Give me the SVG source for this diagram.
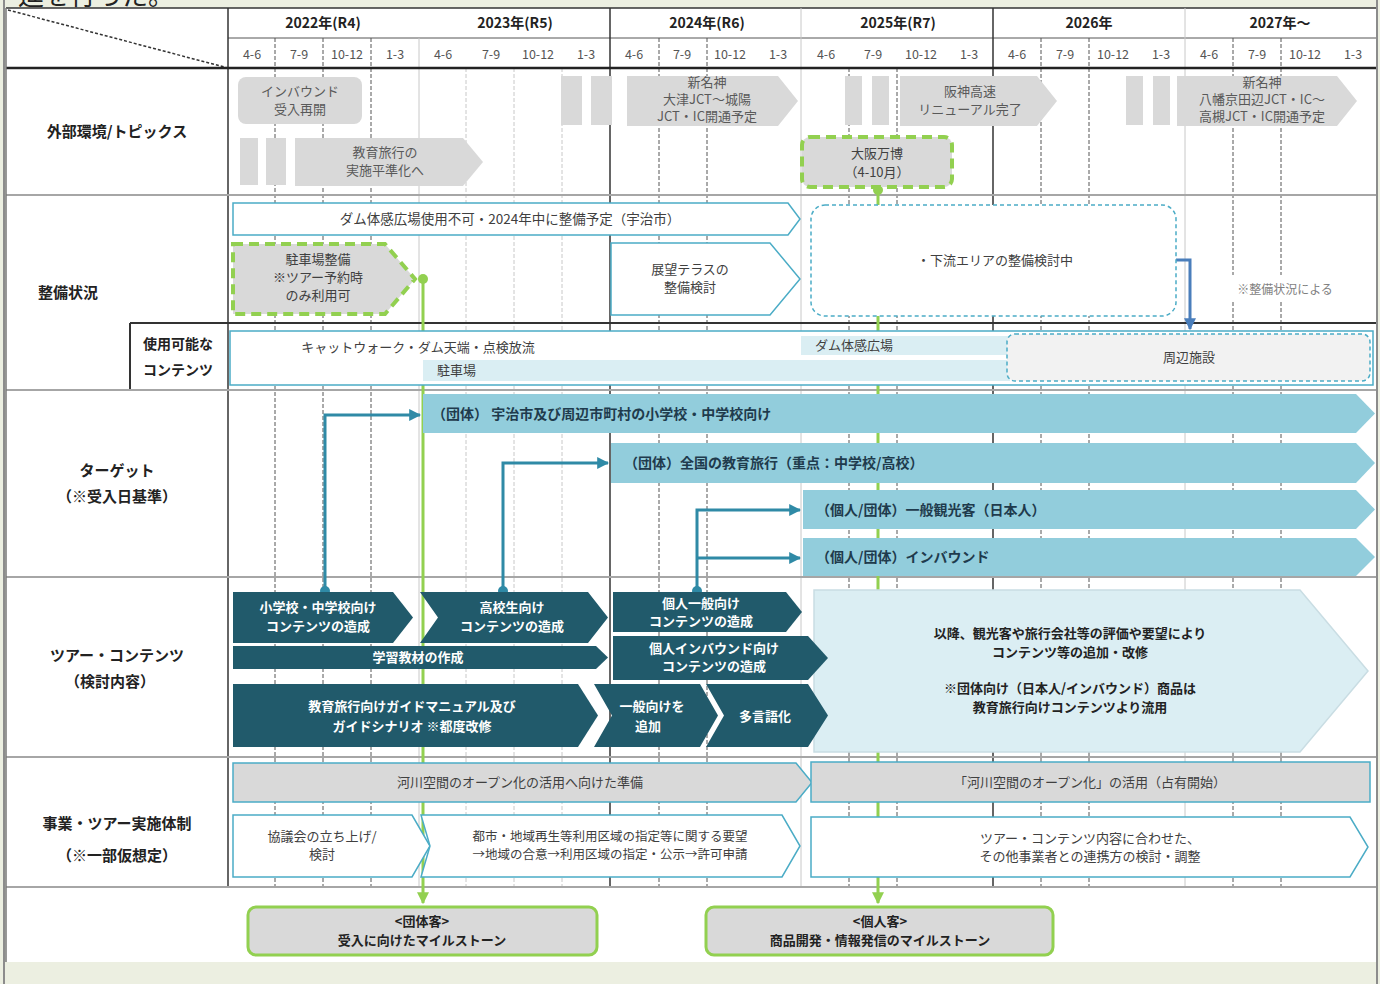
<svg xmlns="http://www.w3.org/2000/svg" width="1380" height="984" viewBox="0 0 1380 984">
<defs>
<style>
text{font-family:"Noto Sans CJK JP","Noto Sans",sans-serif;}
.yr{font-size:14px;font-weight:bold;fill:#222;text-anchor:middle}
.qt{font-size:12.5px;fill:#555;text-anchor:middle}
.lbl{font-size:15px;font-weight:bold;fill:#222;text-anchor:middle}
.g{fill:#d9d9d9}
.gt{font-size:13px;fill:#595959;text-anchor:middle}
.wb{fill:#fff;stroke:#4bacc6;stroke-width:1.5}
.bt{font-size:13px;fill:#404040;text-anchor:middle}
.tg{fill:#92cddc}
.tgt{font-size:14px;font-weight:bold;fill:#1f3b4d}
.dk{fill:#215a6b}
.dkt{font-size:13px;font-weight:bold;fill:#fff;text-anchor:middle}
.grn{fill:#d9d9d9;stroke:#92d050;stroke-width:4;stroke-dasharray:10 6}
.qd{stroke:#555;stroke-width:1;stroke-dasharray:4 2}
.qf{stroke:#c8c8c8;stroke-width:1;stroke-dasharray:4 2}
.yd{stroke:#333;stroke-width:1.5}
.yf{stroke:#c8c8c8;stroke-width:1}
.sep{stroke:#a6a6a6;stroke-width:2}
.tc{fill:none;stroke:#2f8aa6;stroke-width:3}
.gl{fill:none;stroke:#92d050;stroke-width:3}
</style>
<marker id="aT" viewBox="0 0 10 10" refX="9" refY="5" markerWidth="4" markerHeight="4" orient="auto"><path d="M0,0 L10,5 L0,10 Z" fill="#2f8aa6"/></marker>
<marker id="aG" viewBox="0 0 10 10" refX="9" refY="5" markerWidth="4" markerHeight="4" orient="auto"><path d="M0,0 L10,5 L0,10 Z" fill="#92d050"/></marker>
<marker id="aB" viewBox="0 0 10 10" refX="9" refY="5" markerWidth="4" markerHeight="4" orient="auto"><path d="M0,0 L10,5 L0,10 Z" fill="#4a7ebb"/></marker>
</defs>

<!-- background / frame -->
<rect x="0" y="0" width="1380" height="984" fill="#ecefe1"/>
<rect x="6" y="8" width="1370" height="954" fill="#fff"/>
<text x="18" y="5" style="font-size:26px;fill:#222">進を行った。</text>
<line x1="4" y1="0" x2="4" y2="984" stroke="#8c8c8c" stroke-width="2"/>
<line x1="1377" y1="0" x2="1377" y2="984" stroke="#8c8c8c" stroke-width="2"/>

<!-- grid -->
<g id="grid">
<line x1="6" y1="8" x2="1376" y2="8" stroke="#333" stroke-width="1.5"/>
<line x1="228" y1="38" x2="1376" y2="38" stroke="#555" stroke-width="1"/>
<line x1="8" y1="10" x2="228" y2="68" stroke="#333" stroke-width="1.5" stroke-dasharray="3 2"/>
<g>
<line class="qd" x1="275" y1="38" x2="275" y2="887"/>
<line class="qd" x1="323" y1="38" x2="323" y2="887"/>
<line class="qd" x1="371" y1="38" x2="371" y2="887"/>
<line class="qf" x1="466" y1="68" x2="466" y2="887"/>
<line class="qf" x1="514" y1="68" x2="514" y2="887"/>
<line class="qf" x1="562" y1="68" x2="562" y2="887"/>
<line class="qd" x1="659" y1="38" x2="659" y2="887"/>
<line class="qd" x1="707" y1="38" x2="707" y2="887"/>
<line class="qd" x1="849" y1="68" x2="849" y2="887"/>
<line class="qd" x1="897" y1="68" x2="897" y2="887"/>
<line class="qd" x1="1041" y1="38" x2="1041" y2="887"/>
<line class="qd" x1="1089" y1="38" x2="1089" y2="887"/>
<line class="qd" x1="1233" y1="38" x2="1233" y2="887"/>
<line class="qd" x1="1281" y1="38" x2="1281" y2="887"/>
<line class="yf" x1="419" y1="38" x2="419" y2="887"/>
<line class="yf" x1="801" y1="8" x2="801" y2="887"/>
<line class="yf" x1="1185" y1="8" x2="1185" y2="887"/>
<line class="yd" x1="610" y1="8" x2="610" y2="887"/>
<line class="yd" x1="993" y1="8" x2="993" y2="887"/>
<line class="yd" x1="228" y1="8" x2="228" y2="887"/>
</g>
<line x1="6" y1="68" x2="1376" y2="68" stroke="#222" stroke-width="2.5"/>
<line class="sep" x1="6" y1="195" x2="1376" y2="195"/>
<line x1="130" y1="323" x2="1376" y2="323" stroke="#333" stroke-width="2"/>
<line x1="130" y1="323" x2="130" y2="390" stroke="#333" stroke-width="2"/>
<line class="sep" x1="6" y1="390" x2="1376" y2="390"/>
<line class="sep" x1="6" y1="577" x2="1376" y2="577"/>
<line class="sep" x1="6" y1="757" x2="1376" y2="757"/>
<line class="sep" x1="6" y1="887" x2="1376" y2="887"/>
<line x1="6" y1="8" x2="6" y2="962" stroke="#777" stroke-width="1.5"/>
</g>

<!-- header -->
<g id="header">
<text class="yr" x="323" y="28">2022年(R4)</text>
<text class="yr" x="515" y="28">2023年(R5)</text>
<text class="yr" x="707" y="28">2024年(R6)</text>
<text class="yr" x="898" y="28">2025年(R7)</text>
<text class="yr" x="1089" y="28">2026年</text>
<text class="yr" x="1280" y="28">2027年～</text>
<g class="qt">
<text x="252" y="59">4-6</text><text x="299" y="59">7-9</text><text x="347" y="59">10-12</text><text x="395" y="59">1-3</text>
<text x="443" y="59">4-6</text><text x="491" y="59">7-9</text><text x="538" y="59">10-12</text><text x="586" y="59">1-3</text>
<text x="634" y="59">4-6</text><text x="682" y="59">7-9</text><text x="730" y="59">10-12</text><text x="778" y="59">1-3</text>
<text x="826" y="59">4-6</text><text x="873" y="59">7-9</text><text x="921" y="59">10-12</text><text x="969" y="59">1-3</text>
<text x="1017" y="59">4-6</text><text x="1065" y="59">7-9</text><text x="1113" y="59">10-12</text><text x="1161" y="59">1-3</text>
<text x="1209" y="59">4-6</text><text x="1257" y="59">7-9</text><text x="1305" y="59">10-12</text><text x="1353" y="59">1-3</text>
</g>
</g>

<!-- row labels -->
<g id="row-labels">
<text class="lbl" x="117" y="137">外部環境/トピックス</text>
<text class="lbl" x="68" y="298">整備状況</text>
<text class="lbl" x="178" y="349" style="font-size:14px">使用可能な</text>
<text class="lbl" x="178" y="375" style="font-size:14px">コンテンツ</text>
<text class="lbl" x="117" y="476">ターゲット</text>
<text class="lbl" x="117" y="502">（※受入日基準）</text>
<text class="lbl" x="117" y="661">ツアー・コンテンツ</text>
<text class="lbl" x="110" y="687">（検討内容）</text>
<text class="lbl" x="117" y="829">事業・ツアー実施体制</text>
<text class="lbl" x="117" y="861">（※一部仮想定）</text>
</g>

<!-- connectors -->
<g id="connectors">
<path class="gl" d="M423,279 V903" marker-end="url(#aG)"/>
<path class="gl" d="M878,188 V903" marker-end="url(#aG)"/>
<circle cx="423" cy="279" r="5" fill="#92d050"/>
<circle cx="878" cy="190" r="5" fill="#92d050"/>
<path class="tc" d="M325,590 V415 H420" marker-end="url(#aT)"/>
<path class="tc" d="M503,590 V463 H608" marker-end="url(#aT)"/>
<path class="tc" d="M697,590 V510 H800" marker-end="url(#aT)"/>
<path class="tc" d="M697,558 H800" marker-end="url(#aT)"/>
<circle cx="325" cy="591" r="5" fill="#2f8aa6"/>
<circle cx="503" cy="591" r="5" fill="#2f8aa6"/>
<circle cx="697" cy="591" r="5" fill="#2f8aa6"/>
<path d="M1176,260 H1190 V329" fill="none" stroke="#4a7ebb" stroke-width="3" marker-end="url(#aB)"/>
</g>

<!-- 外部環境/トピックス -->
<g id="n-inbound"><rect class="g" x="238" y="77" width="124" height="47" rx="8"/><text class="gt" x="300" y="96">インバウンド</text><text class="gt" x="300" y="114">受入再開</text></g>
<g id="n-bars1"><rect class="g" x="240" y="138" width="18" height="47"/><rect class="g" x="266" y="138" width="20" height="47"/></g>
<g id="n-kyoiku"><path class="g" d="M295,138 H463 L483,162 L463,186 H295 Z"/><text class="gt" x="385" y="157">教育旅行の</text><text class="gt" x="385" y="175">実施平準化へ</text></g>
<g id="n-bars2"><rect class="g" x="561" y="76" width="21" height="49"/><rect class="g" x="591" y="76" width="21" height="49"/></g>
<g id="n-shinmeishin1"><path class="g" d="M627,76 H778 L798,101 L778,126 H627 Z"/><text class="gt" x="707" y="87">新名神</text><text class="gt" x="707" y="104">大津JCT～城陽</text><text class="gt" x="707" y="121">JCT・IC開通予定</text></g>
<g id="n-bars3"><rect class="g" x="845" y="76" width="17" height="49"/><rect class="g" x="872" y="76" width="17" height="49"/></g>
<g id="n-hanshin"><path class="g" d="M900,76 H1037 L1057,101 L1037,126 H900 Z"/><text class="gt" x="970" y="96">阪神高速</text><text class="gt" x="970" y="114">リニューアル完了</text></g>
<g id="n-bars4"><rect class="g" x="1126" y="76" width="17" height="49"/><rect class="g" x="1153" y="76" width="17" height="49"/></g>
<g id="n-shinmeishin2"><path class="g" d="M1177,76 H1337 L1357,101 L1337,126 H1177 Z"/><text class="gt" x="1262" y="87">新名神</text><text class="gt" x="1262" y="104">八幡京田辺JCT・IC～</text><text class="gt" x="1262" y="121">高槻JCT・IC開通予定</text></g>
<g id="n-banpaku"><rect class="grn" x="802" y="137" width="150" height="50" rx="8"/><text class="bt" x="877" y="158">大阪万博</text><text class="bt" x="877" y="177">（4-10月）</text></g>

<!-- 整備状況 -->
<g id="n-damhiroba"><path class="wb" d="M233,203 H788 L800,219 L788,235 H233 Z"/><text class="bt" x="510" y="224" style="font-size:13.5px">ダム体感広場使用不可・2024年中に整備予定（宇治市）</text></g>
<g id="n-parking"><path class="grn" d="M233,244 H385 L415,279 L385,314 H233 Z"/><text class="bt" x="318" y="264">駐車場整備</text><text class="bt" x="318" y="282">※ツアー予約時</text><text class="bt" x="318" y="300">のみ利用可</text></g>
<g id="n-terrace"><path class="wb" d="M611,243 H770 L800,279 L770,315 H611 Z"/><text class="bt" x="690" y="274">展望テラスの</text><text class="bt" x="690" y="292">整備検討</text></g>
<g id="n-karyu"><rect x="811" y="205" width="365" height="111" rx="14" fill="#fff" stroke="#4bacc6" stroke-width="1.5" stroke-dasharray="4 3"/><text class="bt" x="995" y="265">・下流エリアの整備検討中</text></g>
<g id="n-note"><rect x="1232" y="275" width="108" height="26" fill="#fff"/><text x="1285" y="294" style="font-size:12px;fill:#7f7f7f;text-anchor:middle">※整備状況による</text></g>

<!-- 使用可能なコンテンツ -->
<g id="n-contents"><rect x="230" y="331" width="1143" height="54" fill="#fff" stroke="#4bacc6" stroke-width="1.5"/>
<text class="bt" x="418" y="352">キャットウォーク・ダム天端・点検放流</text></g>
<g id="n-chushajo"><rect x="423" y="360" width="587" height="21" fill="#daeef3"/><text class="bt" x="437" y="375" style="text-anchor:start">駐車場</text></g>
<g id="n-hiroba"><rect x="801" y="336" width="210" height="19" fill="#daeef3"/><text class="bt" x="815" y="350" style="text-anchor:start">ダム体感広場</text></g>
<g id="n-shuhen"><rect x="1007" y="334" width="363" height="47" rx="8" fill="#f2f2f2" stroke="#4bacc6" stroke-width="1.5" stroke-dasharray="4 3"/><text class="bt" x="1189" y="362">周辺施設</text></g>

<!-- ターゲット -->
<g id="n-t1"><path class="tg" d="M423,394 H1356 L1375,413.5 L1356,433 H423 Z"/><text class="tgt" x="432" y="419">（団体） 宇治市及び周辺市町村の小学校・中学校向け</text></g>
<g id="n-t2"><path class="tg" d="M611,443 H1356 L1375,463 L1356,483 H611 Z"/><text class="tgt" x="624" y="468">（団体）全国の教育旅行（重点：中学校/高校）</text></g>
<g id="n-t3"><path class="tg" d="M803,490 H1356 L1375,509.5 L1356,529 H803 Z"/><text class="tgt" x="816" y="515">（個人/団体）一般観光客（日本人）</text></g>
<g id="n-t4"><path class="tg" d="M803,538 H1356 L1375,557 L1356,576 H803 Z"/><text class="tgt" x="816" y="562">（個人/団体）インバウンド</text></g>

<!-- ツアー・コンテンツ -->
<g id="n-c9"><path d="M814,590 H1300 L1368,671 L1300,752 H814 Z" fill="#dbeef3" stroke="#c9dde3" stroke-width="1.5"/>
<text class="bt" x="1070" y="638" style="font-weight:bold;fill:#222">以降、観光客や旅行会社等の評価や要望により</text>
<text class="bt" x="1070" y="657" style="font-weight:bold;fill:#222">コンテンツ等の追加・改修</text>
<text class="bt" x="1070" y="693" style="font-weight:bold;fill:#222">※団体向け（日本人/インバウンド）商品は</text>
<text class="bt" x="1070" y="712" style="font-weight:bold;fill:#222">教育旅行向けコンテンツより流用</text></g>
<g id="n-c1"><path class="dk" d="M233,592 H393 L413,617.5 L393,643 H233 Z"/><text class="dkt" x="318" y="612">小学校・中学校向け</text><text class="dkt" x="318" y="631">コンテンツの造成</text></g>
<g id="n-c2"><path class="dk" d="M420,592 H588 L608,617.5 L588,643 H420 L438,617.5 Z"/><text class="dkt" x="512" y="612">高校生向け</text><text class="dkt" x="512" y="631">コンテンツの造成</text></g>
<g id="n-c3"><path class="dk" d="M233,646 H596 L608,657.5 L596,669 H233 Z"/><text class="dkt" x="418" y="662">学習教材の作成</text></g>
<g id="n-c4"><path class="dk" d="M613,592 H786 L802,612 L786,632 H613 Z"/><text class="dkt" x="701" y="608">個人一般向け</text><text class="dkt" x="701" y="626">コンテンツの造成</text></g>
<g id="n-c5"><path class="dk" d="M613,636 H808 L828,658 L808,680 H613 Z"/><text class="dkt" x="714" y="653">個人インバウンド向け</text><text class="dkt" x="714" y="671">コンテンツの造成</text></g>
<g id="n-c6"><path class="dk" d="M233,684 H578 L598,715.5 L578,747 H233 Z"/><text class="dkt" x="412" y="711">教育旅行向けガイドマニュアル及び</text><text class="dkt" x="412" y="731">ガイドシナリオ ※都度改修</text></g>
<g id="n-c7"><path class="dk" d="M594,684 H700 L718,715.5 L700,747 H594 L612,715.5 Z"/><text class="dkt" x="652" y="711">一般向けを</text><text class="dkt" x="648" y="731">追加</text></g>
<g id="n-c8"><path class="dk" d="M706,684 H808 L828,715.5 L808,747 H706 L724,715.5 Z"/><text class="dkt" x="765" y="721">多言語化</text></g>

<!-- 事業・ツアー実施体制 -->
<g id="n-j1"><path d="M233,763 H796 L812,782.5 L796,802 H233 Z" fill="#d9d9d9" stroke="#4bacc6" stroke-width="1.5"/><text class="bt" x="520" y="787">河川空間のオープン化の活用へ向けた準備</text></g>
<g id="n-j2"><rect x="811" y="762" width="559" height="40" fill="#d9d9d9" stroke="#4bacc6" stroke-width="1.5"/><text class="bt" x="1090" y="787">「河川空間のオープン化」の活用（占有開始）</text></g>
<g id="n-j3"><path class="wb" d="M233,815 H412 L430,846 L412,877 H233 Z"/><text class="bt" x="322" y="841">協議会の立ち上げ/</text><text class="bt" x="322" y="859">検討</text></g>
<g id="n-j4"><path class="wb" d="M421,815 H782 L800,846 L782,877 H421 L430,846 Z"/><text class="bt" x="610" y="841" style="font-size:12.5px">都市・地域再生等利用区域の指定等に関する要望</text><text class="bt" x="610" y="859" style="font-size:12.5px">→地域の合意→利用区域の指定・公示→許可申請</text></g>
<g id="n-j5"><path class="wb" d="M811,817 H1350 L1368,847 L1350,877 H811 Z"/><text class="bt" x="1090" y="843">ツアー・コンテンツ内容に合わせた、</text><text class="bt" x="1090" y="861">その他事業者との連携方の検討・調整</text></g>

<!-- milestones -->
<g id="n-m1"><rect x="248" y="907" width="349" height="48" rx="8" fill="#d9d9d9" stroke="#92d050" stroke-width="3"/><text class="bt" x="422" y="926" style="font-weight:bold;fill:#222">&lt;団体客&gt;</text><text class="bt" x="422" y="945" style="font-weight:bold;fill:#222">受入に向けたマイルストーン</text></g>
<g id="n-m2"><rect x="706" y="907" width="347" height="48" rx="8" fill="#d9d9d9" stroke="#92d050" stroke-width="3"/><text class="bt" x="880" y="926" style="font-weight:bold;fill:#222">&lt;個人客&gt;</text><text class="bt" x="880" y="945" style="font-weight:bold;fill:#222">商品開発・情報発信のマイルストーン</text></g>
</svg>
